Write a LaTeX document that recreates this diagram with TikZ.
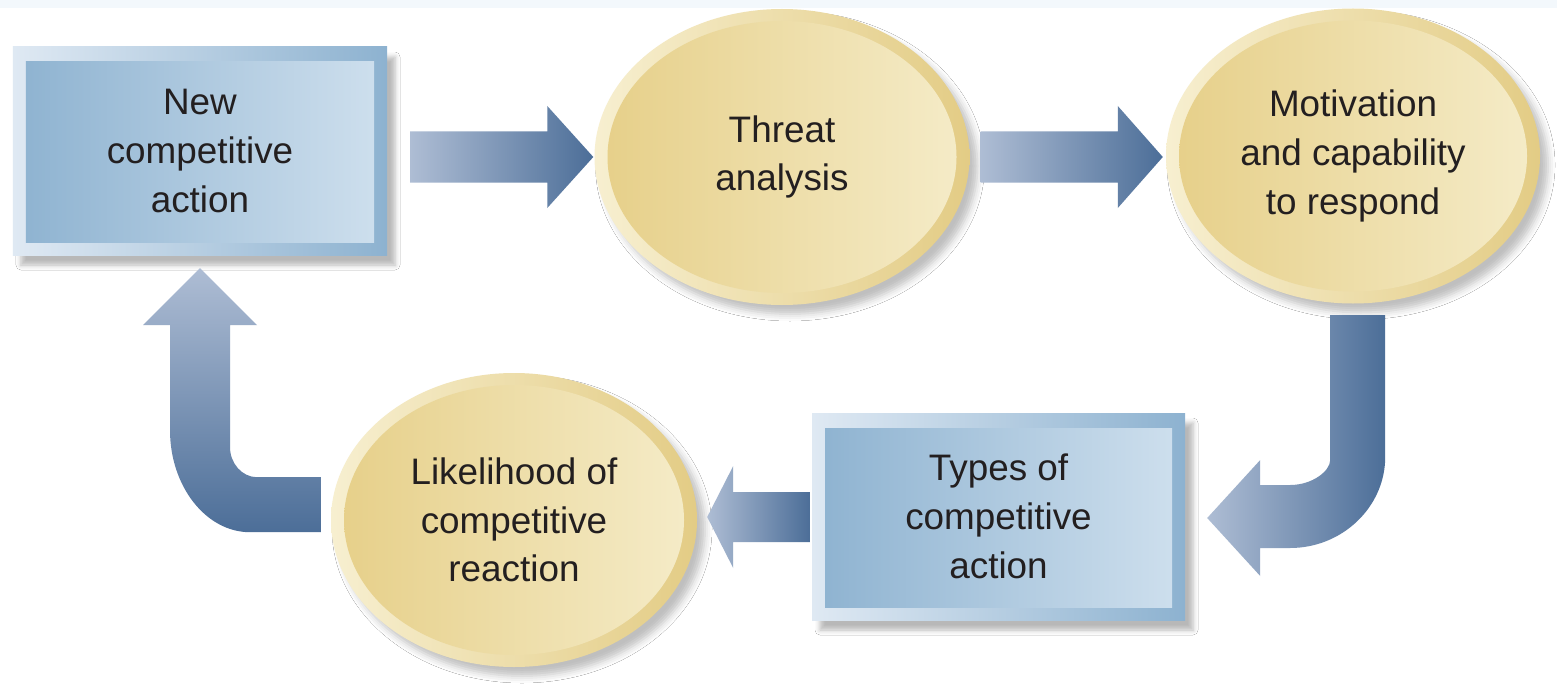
\documentclass[tikz,border=0pt]{standalone}
\usepackage{fontspec}
\setmainfont{Liberation Sans}
\usetikzlibrary{shapes.geometric,calc,shadows.blur}
\definecolor{bandc}{HTML}{F3F8FC}
\definecolor{frameL}{HTML}{DFE9F3}
\definecolor{frameR}{HTML}{8DB2D0}
\definecolor{innerL}{HTML}{8DB2D0}
\definecolor{innerR}{HTML}{CFE0EE}
\definecolor{rimL}{HTML}{F7EFD0}
\definecolor{rimR}{HTML}{E3CC85}
\definecolor{ovalL}{HTML}{E6CF88}
\definecolor{ovalR}{HTML}{F5ECC9}
\definecolor{arrL}{HTML}{AEBDD4}
\definecolor{arrD}{HTML}{4C6E98}
\definecolor{txt}{HTML}{231F20}
\begin{document}
\begin{tikzpicture}[x=1bp,y=-1bp,
  label font/.style={text=txt, align=center, font=\fontsize{37}{49}\selectfont},
  boxnode/.style 2 args={rectangle, inner sep=0pt, minimum width=#1bp, minimum height=#2bp,
    left color=frameL, right color=frameR, label font,
    blur shadow={shadow xshift=8bp, shadow yshift=-10bp, shadow blur radius=5bp, shadow opacity=28},
    path picture={\shade[left color=innerL, right color=innerR]
      ([xshift=13bp,yshift=-15bp]path picture bounding box.north west) rectangle
      ([xshift=-13bp,yshift=13bp]path picture bounding box.south east);}},
  ovalnode/.style 2 args={ellipse, inner sep=0pt, minimum width=#1bp, minimum height=#2bp,
    left color=rimL, right color=rimR, label font,
    blur shadow={shadow xshift=8bp, shadow yshift=-9bp, shadow blur radius=7bp, shadow opacity=25},
    path picture={\shade[left color=ovalL, right color=ovalR]
      (path picture bounding box.center) ellipse [x radius={#1/2-13}, y radius={#2/2-12}];}},
  hshade/.style={left color=arrL, right color=arrD},
  vshade/.style={top color=arrL, bottom color=arrD}
]
\useasboundingbox (0,0) rectangle (1557,695);
\fill[white] (0,0) rectangle (1557,695);
\fill[bandc] (0,0) rectangle (1557,8);

% nodes
\node[boxnode={374}{208}] (b1) at (200,151) {New\\competitive\\action};
\node[ovalnode={375}{296}] (e1) at (782,157) {Threat\\analysis};
\node[ovalnode={374}{295}] (e2) at (1353,156) {Motivation\\and capability\\to respond};
\node[boxnode={373}{207}] (b2) at (998.5,516.5) {Types of\\competitive\\action};
\node[ovalnode={366}{294}] (e3) at (514,520) {Likelihood of\\competitive\\reaction};

% arrow b1 -> e1
\coordinate (a1s) at ($(b1.east)+(23,6)$);
\coordinate (a1t) at ($(e1.west)+(-1,0)$);
\shade[hshade] ($(a1s)+(0,-25.5)$) -- ($(a1t)+(-46,-25.5)$) -- ($(a1t)+(-46,-51)$) -- (a1t)
  -- ($(a1t)+(-46,51)$) -- ($(a1t)+(-46,25.5)$) -- ($(a1s)+(0,25.5)$) -- cycle;

% arrow e1 -> e2
\coordinate (a2s) at ($(e1.east)+(11,0)$);
\coordinate (a2t) at ($(e2.west)+(-3,1)$);
\shade[hshade] ($(a2s)+(0,-25.5)$) -- ($(a2t)+(-45,-25.5)$) -- ($(a2t)+(-45,-51)$) -- (a2t)
  -- ($(a2t)+(-45,51)$) -- ($(a2t)+(-45,25.5)$) -- ($(a2s)+(0,25.5)$) -- cycle;

% arrow e2 -> b2 (J shape)
\coordinate (jt) at ($(b2.east)+(22,1.5)$);
\shade[hshade] ($(e2.south)+(-23,11.5)$) -- ($(e2.south)+(32,11.5)$) -- ($(jt)+(178,-61)$)
  .. controls ($(jt)+(178,-11)$) and ($(jt)+(135,30)$) .. ($(jt)+(83,30)$)
  -- ($(jt)+(53,30)$) -- ($(jt)+(53,58)$) -- (jt) -- ($(jt)+(53,-58)$) -- ($(jt)+(53,-33)$)
  -- ($(jt)+(83,-33)$) .. controls ($(jt)+(105,-33)$) and ($(jt)+(123,-47)$) .. ($(jt)+(123,-58)$)
  -- cycle;

% arrow b2 -> e3
\coordinate (a3s) at ($(b2.west)+(-2,0.5)$);
\coordinate (a3t) at ($(e3.east)+(10,-3)$);
\shade[hshade] ($(a3s)+(0,-25)$) -- ($(a3t)+(26,-25)$) -- ($(a3t)+(26,-51)$) -- (a3t)
  -- ($(a3t)+(26,51)$) -- ($(a3t)+(26,25)$) -- ($(a3s)+(0,25)$) -- cycle;

% arrow e3 -> b1 (L shape)
\coordinate (lt) at ($(b1.south)+(0,13)$);
\shade[vshade] ($(e3.west)+(-10,-43)$) -- ($(e3.west)+(-10,12)$) -- ($(lt)+(50,264)$)
  .. controls ($(lt)+(6,264)$) and ($(lt)+(-30,218)$) .. ($(lt)+(-30,162)$)
  -- ($(lt)+(-30,57)$) -- ($(lt)+(-57,57)$) -- (lt) -- ($(lt)+(57,57)$) -- ($(lt)+(30,57)$)
  -- ($(lt)+(30,179)$) .. controls ($(lt)+(30,195)$) and ($(lt)+(42,209)$) .. ($(lt)+(57,209)$)
  -- cycle;
\end{tikzpicture}
\end{document}
